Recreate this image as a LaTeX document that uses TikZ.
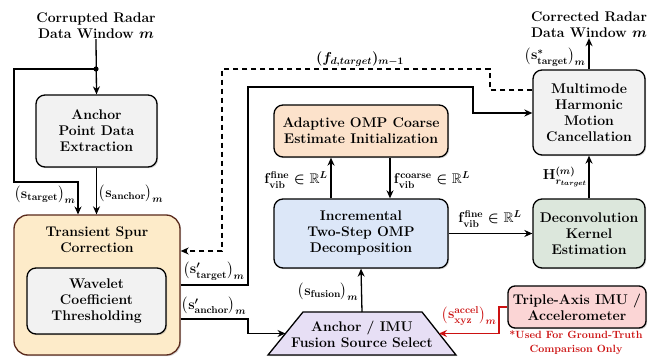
\documentclass[tikz,border=0pt]{standalone}
\usepackage{amsmath,amssymb}
\usepackage{fontspec}
\usetikzlibrary{arrows.meta,shapes.geometric,shadows,calc}
\definecolor{cgray}{HTML}{F2F2F2}
\definecolor{ctrans}{HTML}{FDEBC9}
\definecolor{ctransb}{HTML}{5A2A1C}
\definecolor{cadapt}{HTML}{FCE2CB}
\definecolor{cinc}{HTML}{DCE7F8}
\definecolor{cdec}{HTML}{DCE7DC}
\definecolor{cimu}{HTML}{FBD5D5}
\definecolor{ctrap}{HTML}{E7DFF5}
\definecolor{cred}{HTML}{CC1111}
\begin{document}
\begin{tikzpicture}[x=1pt,y=-1pt,
  font=\fontsize{14}{16}\selectfont\bfseries\boldmath,
  box/.style={draw,rounded corners=9pt,line width=1.3pt,align=center,inner sep=0pt,
    drop shadow={shadow xshift=1.2pt,shadow yshift=-1.2pt,opacity=0.35}},
  conn/.style={line width=1.3pt},
  arr/.style={conn,-{Stealth[length=8pt,width=7pt]}},
  lbl/.style={inner sep=0pt,align=center},
]
\useasboundingbox (0,0) rectangle (665,358);

% titles
\node[lbl] (tin) at (96,26) {Corrupted Radar\\Data Window $m$};
\node[lbl] (tout) at (589,25) {Corrected Radar\\Data Window $m$};

% boxes
\node[box,fill=cgray,minimum width=121pt,minimum height=72pt] (anc) at (96.5,131) {Anchor\\Point Data\\Extraction};
\node[box,fill=ctrans,draw=ctransb,rounded corners=14pt,minimum width=166pt,minimum height=140pt] (trans) at (97,285) {};
\node[lbl] (transt) at (97,240) {Transient Spur\\Correction};
\node[box,fill=cgray,minimum width=139pt,minimum height=66pt] (wav) at (96.5,301) {Wavelet\\Coefficient\\Thresholding};
\node[box,fill=cadapt,minimum width=174pt,minimum height=52pt] (adapt) at (361,131) {Adaptive OMP Coarse\\Estimate Initialization};
\node[box,fill=cinc,minimum width=174pt,minimum height=69pt] (inc) at (361,233.5) {Incremental\\Two-Step OMP\\Decomposition};
\node[box,fill=cgray,minimum width=112pt,minimum height=85pt] (mm) at (589,112.5) {Multimode\\Harmonic\\Motion\\Cancellation};
\node[box,fill=cdec,minimum width=112pt,minimum height=69pt] (dec) at (589,233.5) {Deconvolution\\Kernel\\Estimation};
\node[box,fill=cimu,rounded corners=7pt,minimum width=138pt,minimum height=42pt] (imu) at (577,307) {Triple-Axis IMU /\\Accelerometer};
\path[draw,fill=ctrap,line width=1.3pt,line join=miter,
  drop shadow={shadow xshift=1.2pt,shadow yshift=-1.2pt,opacity=0.35}]
  (268,355) -- (303,312) -- (422,312) -- (456,355) -- cycle;
\coordinate (trapN) at (362,312);
\coordinate (trapW) at (285.5,333.5);
\coordinate (trapE) at (439,333.5);
\node[lbl] (trap) at (362,334) {Anchor / IMU\\Fusion Source Select};
\node[lbl,text=cred,font=\fontsize{10.5}{14}\selectfont\bfseries] (note) at (576,343) {*Used For Ground-Truth\\Comparison Only};

% connectors
\coordinate (junc) at (96,69);
\draw[arr] (tin.south) -- (anc.north);
\fill (junc) circle (2.6pt);
\draw[arr] (junc) -- (14,69) -- (14,182) -- (78,182) -- (78,214.5);
\draw[arr] (anc.south) -- (anc.south |- trans.north);
\draw[arr,dash pattern=on 5pt off 4pt] (mm.west |- 0,90) -- (490,90) -- (490,69) -- (222,69) -- (222,251) -- (trans.east |- 0,251);
\draw[arr] (trans.east |- 0,285) -- (248,285) -- (248,87) -- (473,87) -- (473,113) -- (mm.west |- 0,113);
\draw[arr] (trans.east |- 0,319) -- (248,319) -- (248,333.5) -- (trapW);
\draw[arr] (trapN) -- (inc.south);
\draw[arr] ([xshift=-30pt]inc.north) -- ([xshift=-30pt]adapt.south);
\draw[arr] ([xshift=29pt]adapt.south) -- ([xshift=29pt]inc.north);
\draw[arr] (inc.east) -- (dec.west);
\draw[arr] (dec.north) -- (mm.south);
\draw[arr] (mm.north) -- (tout.south);
\draw[arr,cred] (imu.west) -- (499,307) -- (499,333.5) -- (trapE);

% labels
\node[lbl] (l1) at (45,195) {$\bigl(\mathbf{s}_{\mathbf{target}}\bigr)_m$};
\node[lbl] (l2) at (131,194) {$\bigl(\mathbf{s}_{\mathbf{anchor}}\bigr)_m$};
\node[lbl] (l3) at (214,271) {$\bigl(\mathbf{s}'_{\mathbf{target}}\bigr)_m$};
\node[lbl] (l4) at (214,306) {$\bigl(\mathbf{s}'_{\mathbf{anchor}}\bigr)_m$};
\node[lbl] (l5) at (360,59) {$(f_{d,target})_{m-1}$};
\node[lbl] (l6) at (296,180) {$\mathbf{f}^{\mathbf{fine}}_{\mathbf{vib}}\in\mathbb{R}^L$};
\node[lbl] (l7) at (432,180) {$\mathbf{f}^{\mathbf{coarse}}_{\mathbf{vib}}\in\mathbb{R}^L$};
\node[lbl] (l8) at (490,219) {$\mathbf{f}^{\mathbf{fine}}_{\mathbf{vib}}\in\mathbb{R}^L$};
\node[lbl] (l9) at (565,177) {$\mathbf{H}^{(m)}_{r_{target}}$};
\node[lbl] (l10) at (555,57) {$\bigl(\mathbf{s}^{*}_{\mathbf{target}}\bigr)_m$};
\node[lbl] (l11) at (328,292) {$\bigl(\mathbf{s}_{\mathbf{fusion}}\bigr)_m$};
\node[lbl,text=cred] (l12) at (469,316) {$\bigl(\mathbf{s}^{\mathbf{accel}}_{\mathbf{xyz}}\bigr)_m$};
\end{tikzpicture}
\end{document}
